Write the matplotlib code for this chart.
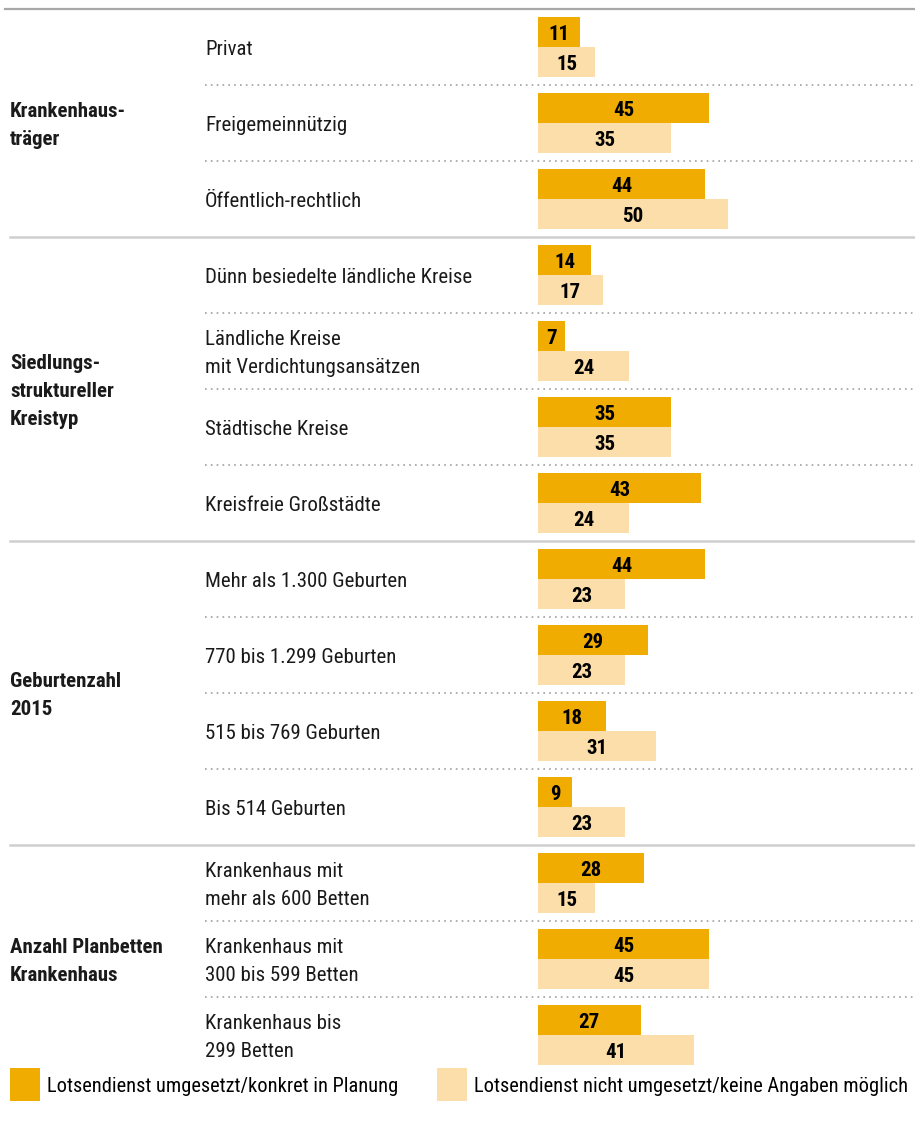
import numpy as np
import matplotlib
matplotlib.use('Agg')
import matplotlib.pyplot as plt
import matplotlib.transforms as mtransforms

plt.rcParams['font.family'] = ['Roboto Condensed', 'DejaVu Sans']

groups = ['Krankenhaus-\nträger', 'Siedlungs-\nstruktureller\nKreistyp',
          'Geburtenzahl\n2015', 'Anzahl Planbetten\nKrankenhaus']
group_sizes = [3, 4, 4, 3]
categories = ['Privat', 'Freigemeinnützig', 'Öffentlich-rechtlich',
              'Dünn besiedelte ländliche Kreise',
              'Ländliche Kreise\nmit Verdichtungsansätzen',
              'Städtische Kreise', 'Kreisfreie Großstädte',
              'Mehr als 1.300 Geburten', '770 bis 1.299 Geburten',
              '515 bis 769 Geburten', 'Bis 514 Geburten',
              'Krankenhaus mit\nmehr als 600 Betten',
              'Krankenhaus mit\n300 bis 599 Betten',
              'Krankenhaus bis\n299 Betten']
umgesetzt = [11, 45, 44, 14, 7, 35, 43, 44, 29, 18, 9, 28, 45, 27]
nicht_umgesetzt = [15, 35, 50, 17, 24, 35, 24, 23, 23, 31, 23, 15, 45, 41]
legend_labels = ['Lotsendienst umgesetzt/konkret in Planung',
                 'Lotsendienst nicht umgesetzt/keine Angaben möglich']

dark = '#f0ac00'
light = '#fcdeaa'

W, H = 915, 1125
fig = plt.figure(figsize=(W / 100, H / 100), dpi=100)
ax = fig.add_axes([0, 0, 1, 1])
px_per_unit = 3.8
x0 = 538
pitch = 76
y_first = 47
ax.set_xlim(-x0 / px_per_unit, (W - x0) / px_per_unit)
ax.set_ylim((H - y_first) / pitch, -y_first / pitch)
ax.axis('off')

n = len(categories)
y = np.arange(n)
bh = 30 / pitch
dy = 2.5 / pitch  # small downward nudge for text
ax.barh(y - bh, umgesetzt, height=bh, align='edge', color=dark, linewidth=0)
ax.barh(y, nicht_umgesetzt, height=bh, align='edge', color=light, linewidth=0)
for i in range(n):
    ax.text(umgesetzt[i] / 2, i - bh / 2 + dy, str(umgesetzt[i]), ha='center', va='center',
            fontsize=15, fontweight='bold', color='black')
    ax.text(nicht_umgesetzt[i] / 2, i + bh / 2 + dy, str(nicht_umgesetzt[i]), ha='center',
            va='center', fontsize=15, fontweight='bold', color='black')

tr = mtransforms.blended_transform_factory(ax.transAxes, ax.transData)
for i, cat in enumerate(categories):
    ax.text(205 / W, i + dy, cat, transform=tr, ha='left', va='center', fontsize=15,
            linespacing=1.58, color='#1a1a1a')

# separators
ax.plot([5 / W, 1], [-0.5, -0.5], transform=tr, color='#a8a8a8', lw=1.6)
start = 0
for g, size in zip(groups, group_sizes):
    mid = start + (size - 1) / 2
    ax.text(10 / W, mid + dy, g, transform=tr, ha='left', va='center', fontsize=15,
            fontweight='bold', linespacing=1.6, color='#1a1a1a')
    for k in range(1, size):
        ax.plot([205 / W, 1], [start + k - 0.5] * 2, transform=tr, color='#a0a0a0',
                lw=1.2, linestyle=(0, (1, 2.5)))
    end = start + size - 0.5
    if start + size < n:
        ax.plot([10 / W, 1], [end, end], transform=tr, color='#cfcfcf', lw=1.8)
    start += size

# legend
ly = 1 - 1087 / H
fig.patches.append(plt.Rectangle((10 / W, 1 - 1101 / H), 30 / W, 33 / H,
                                 transform=fig.transFigure, color=dark, lw=0))
fig.text(47 / W, ly, legend_labels[0], ha='left', va='center', fontsize=14.7)
fig.patches.append(plt.Rectangle((437 / W, 1 - 1101 / H), 30 / W, 33 / H,
                                 transform=fig.transFigure, color=light, lw=0))
fig.text(474 / W, ly, legend_labels[1], ha='left', va='center', fontsize=14.7)

fig.savefig('out.png', dpi=100)
